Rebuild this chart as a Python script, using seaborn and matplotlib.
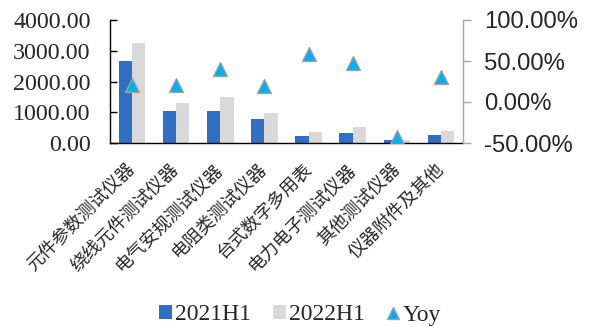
import numpy as np
import pandas as pd
import matplotlib
matplotlib.use("Agg")
import matplotlib.pyplot as plt
from matplotlib.ticker import FuncFormatter, FixedLocator
from matplotlib.lines import Line2D
from matplotlib.patches import Patch
import seaborn as sns

categories = ["元件参数测试仪器", "绕线元件测试仪器", "电气安规测试仪器", "电阻类测试仪器",
              "台式数字多用表", "电力电子测试仪器", "其他测试仪器", "仪器附件及其他"]
sales_2021h1 = [2655, 1056, 1035, 795, 218, 339, 111, 274]
sales_2022h1 = [3260, 1304, 1480, 978, 372, 535, 88, 391]
yoy = [0.213, 0.204, 0.40, 0.192, 0.59, 0.477, -0.428, 0.306]
series_names = ["2021H1", "2022H1"]
left_ticks = [0, 1000, 2000, 3000, 4000]
right_ticks = [-0.5, 0.0, 0.5, 1.0]

c_blue = "#3070C4"
c_grey = "#D9D9D9"
c_tri = "#00B0F0"

sns.set_theme(style="white")
plt.rcParams["font.family"] = ["Liberation Serif", "Noto Sans CJK SC"]

df = pd.DataFrame({
    "cat": categories * 2,
    "val": sales_2021h1 + sales_2022h1,
    "series": [series_names[0]] * len(categories) + [series_names[1]] * len(categories),
})

fig = plt.figure(figsize=(5.89, 3.27), dpi=100)
ax = fig.add_axes([110 / 589, 1 - 143 / 327, (463 - 110) / 589, (143 - 20) / 327])

sns.barplot(data=df, x="cat", y="val", hue="series", order=categories,
            palette=[c_blue, c_grey], width=0.6, gap=0, ax=ax, legend=False,
            saturation=1, edgecolor="none", linewidth=0)
ax.set_xlim(-0.5, len(categories) - 0.5)
ax.set_ylim(0, 4000)
ax.yaxis.set_major_locator(FixedLocator(left_ticks))
ax.yaxis.set_major_formatter(FuncFormatter(lambda v, p: f"{v:.2f}"))
ax.set_xlabel("")
ax.set_ylabel("")

for s in ["top", "right"]:
    ax.spines[s].set_visible(False)
for s in ["left", "bottom"]:
    ax.spines[s].set_color("black")
    ax.spines[s].set_linewidth(1.0)

# x ticks: labels at centers, tick marks at boundaries
ax.set_xticks(range(len(categories)))
ax.set_xticklabels(categories, rotation=45, ha="right", va="center",
                   rotation_mode="anchor", family=["Noto Sans CJK SC"], fontsize=13,
                   fontweight="light")
ax.tick_params(axis="x", which="major", length=0, pad=17)
ax.set_xticks(np.arange(0.5, len(categories) - 0.5, 1.0), minor=True)
ax.tick_params(axis="x", which="minor", direction="in", length=5, color="black", width=1)
ax.tick_params(axis="y", direction="in", length=5, color="black", width=1, pad=14,
               labelsize=17.3)
for t in ax.get_yticklabels():
    t.set_family(["Liberation Serif"])

ax2 = ax.twinx()
sns.scatterplot(x=categories, y=yoy, marker="^", s=100, color=c_tri,
                edgecolor="#A0A0A0", linewidth=1.0, ax=ax2, zorder=5, legend=False)
ax2.set_xlim(-0.5, len(categories) - 0.5)
ax2.set_ylim(-0.5, 1.0)
ax2.yaxis.set_major_locator(FixedLocator(right_ticks))
ax2.yaxis.set_major_formatter(FuncFormatter(lambda v, p: f"{v * 100:.2f}%"))
for s in ["top", "left", "bottom"]:
    ax2.spines[s].set_visible(False)
ax2.spines["right"].set_color("#A6A6A6")
ax2.spines["right"].set_linewidth(1.0)
ax2.tick_params(axis="y", direction="out", length=6, color="#A6A6A6", width=1, pad=9,
                labelsize=17.2)
for t in ax2.get_yticklabels():
    t.set_family(["Liberation Sans"])
ax2.set_ylabel("")
ax2.grid(False)
ax.grid(False)

handles = [
    Patch(facecolor=c_blue, edgecolor="none", label=series_names[0]),
    Patch(facecolor=c_grey, edgecolor="none", label=series_names[1]),
    Line2D([0], [0], marker="^", linestyle="none", markersize=9,
           markerfacecolor=c_tri, markeredgecolor="#A0A0A0", label="Yoy"),
]
fig.legend(handles=handles, loc="center", bbox_to_anchor=(300 / 589, 1 - 315 / 327),
           ncol=3, frameon=False, prop={"family": "Liberation Serif", "size": 17},
           handlelength=0.55, handleheight=0.55, handletextpad=0.1, columnspacing=0.95)

fig.savefig("out.png", dpi=100)
